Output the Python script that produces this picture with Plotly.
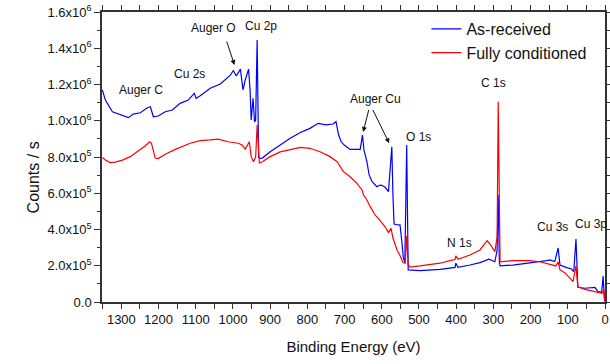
import plotly.graph_objects as go

# ---- data (binding energy in eV, counts in thousands /s) ----
energy_as_received = [1351, 1343, 1324, 1303, 1281, 1268, 1249, 1230, 1222, 1214, 1201, 1182, 1163, 1142, 1120,
                      1104, 1099, 1088, 1061, 1034, 1013, 1007, 999, 991, 980, 973, 967, 958, 954, 951, 946, 942,
                      939, 935, 931, 927, 921, 900, 873, 846, 819, 793, 771, 750, 731, 723, 716, 709, 701, 685,
                      658, 652, 648, 640, 634, 626, 613, 605, 600, 591, 582, 573, 570, 567, 556, 551, 546, 542,
                      538, 533, 529, 497, 443, 403, 401, 395, 363, 336, 312, 296, 290, 287, 284, 282, 248, 202,
                      157, 148, 135, 126, 121, 103, 90, 84, 78, 73, 54, 27, 19, 9, 5, 2, 0]
kcounts_as_received = [1170, 1114, 1050, 1032, 1017, 1037, 1044, 1072, 1077, 1022, 1026, 1050, 1059, 1096, 1114,
                       1151, 1124, 1138, 1179, 1203, 1240, 1252, 1277, 1247, 1285, 1170, 1225, 1285, 1170, 1004,
                       1124, 993, 1004, 1445, 800, 793, 794, 829, 866, 903, 935, 958, 986, 977, 982, 995, 921,
                       884, 866, 842, 842, 921, 839, 774, 701, 664, 636, 645, 644, 633, 609, 857, 590, 430, 425,
                       425, 331, 243, 221, 866, 177, 173, 180, 191, 214, 191, 204, 217, 236, 222, 287, 590, 221,
                       200, 204, 214, 228, 232, 223, 298, 204, 190, 182, 167, 348, 81, 76, 81, 57, 55, 143, 22, 3]

energy_conditioned = [1351, 1343, 1330, 1316, 1297, 1276, 1254, 1236, 1224, 1219, 1209, 1201, 1182, 1155, 1115,
                      1088, 1061, 1040, 1013, 986, 975, 967, 956, 951, 945, 939, 935, 929, 921, 900, 873, 846,
                      819, 793, 766, 739, 720, 703, 685, 667, 653, 649, 640, 631, 618, 605, 591, 582, 575, 570,
                      559, 551, 543, 537, 533, 529, 524, 497, 443, 417, 403, 401, 395, 363, 336, 317, 309, 296,
                      290, 287, 284, 282, 248, 202, 175, 148, 132, 126, 121, 108, 94, 86, 78, 73, 54, 27, 8, 3, 0]
kcounts_conditioned = [797, 783, 769, 772, 783, 802, 835, 861, 884, 876, 794, 791, 815, 842, 876, 890, 894, 899,
                       884, 876, 866, 844, 884, 802, 774, 800, 977, 767, 774, 802, 828, 839, 853, 848, 829, 802,
                       774, 719, 691, 655, 618, 590, 563, 526, 480, 450, 415, 383, 406, 353, 287, 257, 218, 214,
                       364, 204, 193, 199, 214, 228, 234, 254, 236, 259, 287, 338, 320, 278, 360, 1105, 243, 222,
                       228, 228, 222, 210, 199, 222, 177, 162, 131, 112, 199, 84, 70, 57, 48, 66, 3]

series_names = ["As-received", "Fully conditioned"]
series_colors = ["#0000FF", "#FF0000"]

y_tick_values = [0, 2e5, 4e5, 6e5, 8e5, 1.0e6, 1.2e6, 1.4e6, 1.6e6]
y_tick_labels = ["0.0", "2.0x10<sup>5</sup>", "4.0x10<sup>5</sup>", "6.0x10<sup>5</sup>", "8.0x10<sup>5</sup>",
                 "1.0x10<sup>6</sup>", "1.2x10<sup>6</sup>", "1.4x10<sup>6</sup>", "1.6x10<sup>6</sup>"]
y_minor_values = [1e5, 3e5, 5e5, 7e5, 9e5, 1.1e6, 1.3e6, 1.5e6]

# peak labels: (text, energy, counts)
peak_labels = [("Auger C", 1248, 1170e3), ("Cu 2s", 1117, 1258e3), ("Auger O", 1053, 1512e3),
               ("Cu 2p", 924, 1523e3), ("Auger Cu", 617, 1122e3), ("O 1s", 500, 910e3),
               ("C 1s", 300, 1207e3), ("N 1s", 392, 327e3), ("Cu 3s", 140, 412e3), ("Cu 3p", 38, 430e3)]
# arrows: (tail energy, tail counts, head energy, head counts)
peak_arrows = [(1018, 1445e3, 996, 1308e3), (634, 1068e3, 650, 938e3), (626, 1068e3, 580, 876e3)]

FONT = "Arial, Liberation Sans, sans-serif"

fig = go.Figure()
for xs, ks, name, color in [(energy_as_received, kcounts_as_received, series_names[0], series_colors[0]),
                             (energy_conditioned, kcounts_conditioned, series_names[1], series_colors[1])]:
    fig.add_trace(go.Scatter(x=xs, y=[k * 1000 for k in ks], mode="lines", name=name,
                             line=dict(color=color, width=1.2)))

annotations = []
for text, e, c in peak_labels:
    annotations.append(dict(x=e, y=c, xref="x", yref="y", text=text, showarrow=False,
                            font=dict(family=FONT, size=12, color="#111")))
for tx, ty, hx, hy in peak_arrows:
    annotations.append(dict(x=hx, y=hy, ax=tx, ay=ty, xref="x", yref="y", axref="x", ayref="y",
                            text="", showarrow=True, arrowhead=2, arrowsize=1, arrowwidth=1,
                            arrowcolor="#111"))
# y-axis title (placed slightly below the plot's vertical centre, as in the reference)
annotations.append(dict(x=-0.137, y=0.43, xref="paper", yref="paper", xanchor="center", yanchor="middle",
                        text="Counts / s", textangle=-90,
                        showarrow=False, font=dict(family=FONT, size=16, color="#111")))

fig.update_layout(
    width=610, height=364, autosize=False,
    margin=dict(l=102, r=5, t=12, b=62, autoexpand=False),
    paper_bgcolor="white", plot_bgcolor="white",
    font=dict(family=FONT, color="#111"),
    showlegend=True,
    legend=dict(x=0.645, y=1.0, xanchor="left", yanchor="top", bgcolor="rgba(0,0,0,0)",
                font=dict(family=FONT, size=16, color="#111"), tracegroupgap=0),
    annotations=annotations,
    xaxis=dict(range=[1352, 0], showgrid=False, zeroline=False, showline=True, linecolor="#333",
               linewidth=1.5, mirror="allticks", ticks="outside", ticklen=5, tickwidth=1.2,
               tickcolor="#333", tickmode="linear", tick0=0, dtick=100, automargin=False,
               tickfont=dict(family=FONT, size=13, color="#111"),
               minor=dict(ticks="outside", ticklen=5, dtick=50, tick0=0, tickcolor="#333", tickwidth=1.2),
               title=dict(text="Binding Energy (eV)", font=dict(family=FONT, size=15, color="#111"), standoff=15)),
    yaxis=dict(range=[0, 1.6e6], showgrid=False, zeroline=False, showline=True, linecolor="#333",
               linewidth=1.5, mirror="allticks", ticks="outside", ticklen=6, tickwidth=1.2,
               tickcolor="#333", tickmode="array", tickvals=y_tick_values, ticktext=y_tick_labels,
               automargin=False,
               tickfont=dict(family=FONT, size=13, color="#111"),
               minor=dict(ticks="outside", ticklen=3, tickvals=y_minor_values, tickcolor="#333", tickwidth=1.2)),
)

fig.write_html("out.html", config={"displayModeBar": False, "responsive": False},
               post_script="document.body.style.margin='0px';document.body.style.overflow='hidden';")
